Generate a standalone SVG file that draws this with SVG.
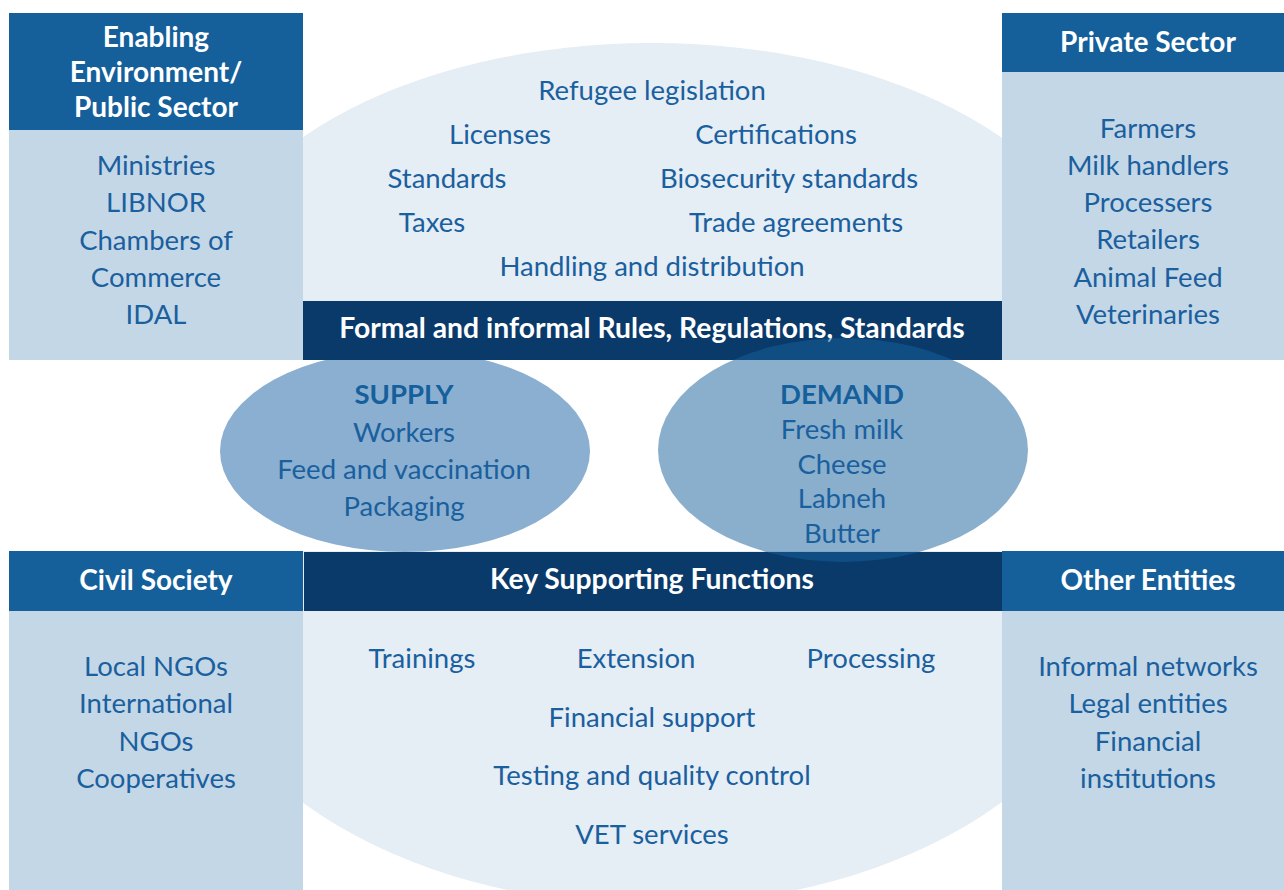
<svg xmlns="http://www.w3.org/2000/svg" width="1284" height="890" viewBox="0 0 1284 890">
<defs>
<clipPath id="clipTop"><rect x="0" y="0" width="1284" height="360"/></clipPath>
<clipPath id="clipBot"><rect x="0" y="551" width="1284" height="339"/></clipPath>
</defs>
<style>
.hd{fill:#155f9b}
.bd{fill:#c4d7e7}
.bar{fill:#0a3a6a}
.t{font-family:Lato,"Open Sans","Liberation Sans",sans-serif;font-size:27.5px;fill:#1a5f9e;text-anchor:middle}
.tc{font-family:Lato,"Open Sans","Liberation Sans",sans-serif;font-size:27.5px;fill:#1a5f9e;text-anchor:middle}
.h{font-family:Lato,"Open Sans","Liberation Sans",sans-serif;font-size:28px;font-weight:bold;fill:#ffffff;text-anchor:middle}
.hb{font-family:Lato,"Open Sans","Liberation Sans",sans-serif;font-size:28.3px;font-weight:bold;fill:#ffffff;text-anchor:middle}
.b{font-family:Lato,"Open Sans","Liberation Sans",sans-serif;font-size:27.5px;font-weight:bold;fill:#15609c;text-anchor:middle}
</style>
<rect width="1284" height="890" fill="#ffffff"/>
<ellipse cx="652" cy="300" rx="451" ry="257" fill="#e5edf5" clip-path="url(#clipTop)"/>
<ellipse cx="652" cy="600" rx="467" ry="305" fill="#e5edf5" clip-path="url(#clipBot)"/>
<g id="supply">
<ellipse cx="405" cy="451" rx="185" ry="101" fill="#8aafd0"/>
</g>
<g id="enabling-environment">
<rect class="hd" x="9" y="13" width="294" height="117"/>
<rect class="bd" x="9" y="130" width="294" height="230"/>
<text class="h" x="156" y="47">Enabling</text>
<text class="h" x="156" y="82">Environment/</text>
<text class="h" x="156" y="117">Public Sector</text>
<text class="t" x="156" y="175">Ministries</text>
<text class="t" x="156" y="212">LIBNOR</text>
<text class="t" x="156" y="250">Chambers of</text>
<text class="t" x="156" y="287">Commerce</text>
<text class="t" x="156" y="324">IDAL</text>
</g>
<g id="private-sector">
<rect class="hd" x="1002" y="13" width="282" height="59"/>
<rect class="bd" x="1002" y="72" width="282" height="288"/>
<text class="h" x="1148" y="52">Private Sector</text>
<text class="t" x="1148" y="138">Farmers</text>
<text class="t" x="1148" y="175">Milk handlers</text>
<text class="t" x="1148" y="212">Processers</text>
<text class="t" x="1148" y="249">Retailers</text>
<text class="t" x="1148" y="287">Animal Feed</text>
<text class="t" x="1148" y="324">Veterinaries</text>
</g>
<g id="rules">
<text class="t" x="652" y="100">Refugee legislation</text>
<text class="t" x="500" y="144">Licenses</text>
<text class="t" x="776" y="144">Certifications</text>
<text class="t" x="447" y="188">Standards</text>
<text class="t" x="789" y="188">Biosecurity standards</text>
<text class="t" x="432" y="232">Taxes</text>
<text class="t" x="796" y="232">Trade agreements</text>
<text class="t" x="652" y="276">Handling and distribution</text>
<rect class="bar" x="303" y="301" width="699" height="59"/>
<text class="hb" x="652" y="338">Formal and informal Rules, Regulations, Standards</text>
</g>
<g id="civil-society">
<rect class="hd" x="9" y="551" width="294" height="60"/>
<rect class="bd" x="9" y="611" width="294" height="279"/>
<text class="h" x="156" y="590">Civil Society</text>
<text class="t" x="156" y="676">Local NGOs</text>
<text class="t" x="156" y="713">International</text>
<text class="t" x="156" y="751">NGOs</text>
<text class="t" x="156" y="788">Cooperatives</text>
</g>
<g id="other-entities">
<rect class="hd" x="1002" y="551" width="282" height="60"/>
<rect class="bd" x="1002" y="611" width="282" height="279"/>
<text class="h" x="1148" y="590">Other Entities</text>
<text class="t" x="1148" y="676">Informal networks</text>
<text class="t" x="1148" y="713">Legal entities</text>
<text class="t" x="1148" y="751">Financial</text>
<text class="t" x="1148" y="788">institutions</text>
</g>
<g id="supporting-functions">
<rect class="bar" x="304" y="552" width="698" height="59"/>
<text class="hb" x="652" y="589">Key Supporting Functions</text>
<text class="tc" x="422" y="668">Trainings</text>
<text class="tc" x="636" y="668">Extension</text>
<text class="tc" x="871" y="668">Processing</text>
<text class="tc" x="652" y="727">Financial support</text>
<text class="tc" x="652" y="785">Testing and quality control</text>
<text class="tc" x="652" y="844">VET services</text>
</g>
<g id="supply-text">
<text class="b" x="404" y="404">SUPPLY</text>
<text class="t" x="404" y="442">Workers</text>
<text class="t" x="404" y="479">Feed and vaccination</text>
<text class="t" x="404" y="516">Packaging</text>
</g>
<g id="demand">
<ellipse cx="843" cy="450" rx="185" ry="112" fill="#165f9c" fill-opacity="0.5"/>
<text class="b" x="842" y="404">DEMAND</text>
<text class="t" x="842" y="439">Fresh milk</text>
<text class="t" x="842" y="474">Cheese</text>
<text class="t" x="842" y="508">Labneh</text>
<text class="t" x="842" y="543">Butter</text>
</g>
<g id="connectors"/>
</svg>
